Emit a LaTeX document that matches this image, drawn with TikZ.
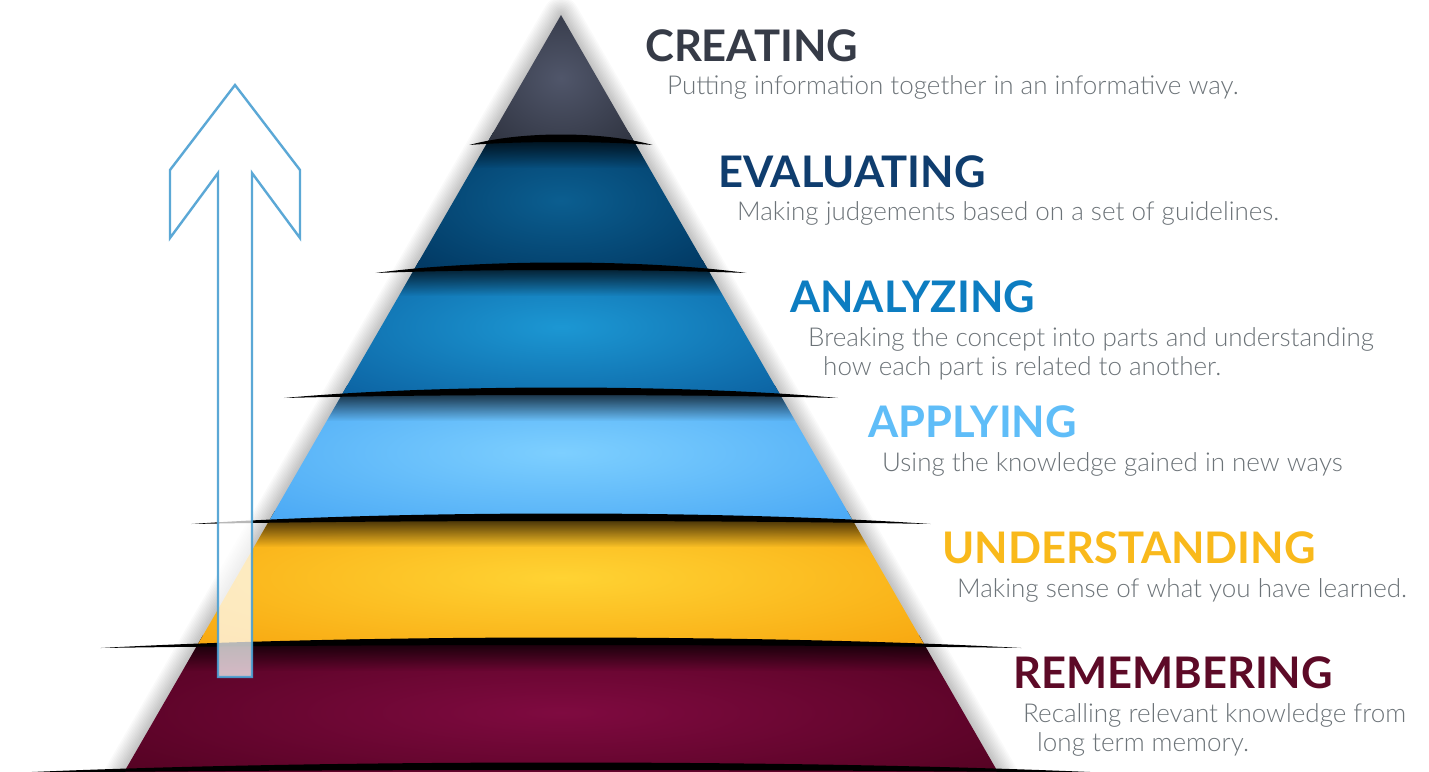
\documentclass[tikz,border=0pt]{standalone}
\usepackage{fontspec}
\setmainfont{Lato}[UprightFont={* Light},BoldFont={* Bold}]
\usepackage{tikz}
\usetikzlibrary{fadings}

\definecolor{createink} {HTML}{363B47}
\definecolor{evalink}   {HTML}{0F3D6E}
\definecolor{anaink}    {HTML}{0D7DC1}
\definecolor{applyink}  {HTML}{5FBDF8}
\definecolor{underink}  {HTML}{F9B91B}
\definecolor{rememink}  {HTML}{5D0A27}
\definecolor{descgray}  {HTML}{6C7378}
\definecolor{arrowblue} {HTML}{4A9FD2}
% band colours: light centre / dark rim
\definecolor{createin}  {HTML}{50566A}
\definecolor{createout} {HTML}{2B2F3B}
\definecolor{evalin}    {HTML}{0B5E90}
\definecolor{evalout}   {HTML}{00335C}
\definecolor{anain}     {HTML}{1C97D3}
\definecolor{anaout}    {HTML}{0A5C9C}
\definecolor{applyin}   {HTML}{7DCFFF}
\definecolor{applyout}  {HTML}{43A3F3}
\definecolor{underin}   {HTML}{FFD333}
\definecolor{underout}  {HTML}{F7A20C}
\definecolor{rememin}   {HTML}{7F0A40}
\definecolor{rememout}  {HTML}{48001A}
\colorlet{bandin}{white}
\colorlet{bandout}{black}
\pgfdeclareradialshading[bandin,bandout]{bandglow}{\pgfpoint{0bp}{0bp}}%
  {color(0bp)=(bandin); color(40bp)=(bandout); color(50bp)=(bandout); color(100bp)=(bandout)}

\tikzset{
  % --- text
  title/.style = {anchor=base west, inner sep=0pt, font=\fontsize{43.5}{44}\selectfont\bfseries},
  desc/.style  = {anchor=base west, inner sep=0pt, text=descgray,
                  font=\fontsize{26}{28}\selectfont},
  % --- shapes
  cut/.style   = {fill=black},
  glow/.style  = {draw=black, opacity=0.02, line join=round},
  climb/.style = {draw=arrowblue, draw opacity=0.9, line width=2.4pt, fill=white,
                  fill opacity=0.72, line join=miter},
}

\begin{document}
\begin{tikzpicture}[x=1pt,y=-1pt]
  \useasboundingbox (0,0) rectangle (1429,771);
  \fill[white] (0,0) rectangle (1429,771);

  % soft shadow round the pyramid
  \foreach \w in {3,6,...,36}
    \draw[glow, line width=\w pt] (561,15) -- (1012,796) -- (110,796) -- cycle;

  % one band: top y, bottom y, inner colour, outer colour, shadow strength
  \newcommand{\pyrband}[5]{%
    \pgfmathsetmacro{\halftop}{0.5771*(#1-15)}
    \pgfmathsetmacro{\halfbot}{0.5771*(#2-15)}
    \colorlet{bandin}{#3}\colorlet{bandout}{#4}
    \shade[shading=bandglow] (561-\halftop,#1) -- (561+\halftop,#1)
      -- (561+\halfbot,#2) -- (561-\halfbot,#2) -- cycle;
    \begin{scope}
      \clip (561-\halftop,#1) -- (561+\halftop,#1)
        -- (561+\halfbot,#2) -- (561-\halfbot,#2) -- cycle;
      \fill[black, path fading=south, opacity=#5]
        (561-\halfbot,#1) rectangle (561+\halfbot,#1+36);
    \end{scope}}
  % the dark lens between two bands, y = its centre line
  \newcommand{\pyrcut}[1]{%
    \pgfmathsetmacro{\tip}{1.27*0.5771*(#1-15)}
    \fill[cut] (561-\tip,#1+5) .. controls (561-0.45*\tip,#1-9) and (561+0.45*\tip,#1-9)
      .. (561+\tip,#1+5) .. controls (561+0.45*\tip,#1+1) and (561-0.45*\tip,#1+1) .. cycle;}

  % bands, bottom first so each one overlaps the one below
  \pyrband{635}{790}{rememin}{rememout}{0.95}
  \pyrband{511}{644}{underin}{underout}{0.95}
  \pyrband{385}{520}{applyin}{applyout}{0.95}
  \pyrband{260}{394}{anain}{anaout}{0.95}
  \pyrband{132}{269}{evalin}{evalout}{0.95}
  \pyrband{15}{141}{createin}{createout}{0}

  \pyrcut{140} \pyrcut{268} \pyrcut{393} \pyrcut{519} \pyrcut{643} \pyrcut{768}

  % hollow arrow on the left
  \draw[climb] (235,85) -- (300,170) -- (300,238) -- (252,173) -- (252,677)
    -- (218,677) -- (218,173) -- (170,238) -- (170,170) -- cycle;

  % labels
  \node[title, text=createink] (creating)      at (645,61)  {CREATING};
  \node[desc]                  (creating-d)    at (667,94)  {Putting information together in an informative way.};
  \node[title, text=evalink]   (evaluating)    at (718,187) {EVALUATING};
  \node[desc]                  (evaluating-d)  at (737,220) {Making judgements based on a set of guidelines.};
  \node[title, text=anaink]    (analyzing)     at (790,312) {ANALYZING};
  \node[desc]                  (analyzing-d)   at (808,346) {Breaking the concept into parts and understanding};
  \node[desc]                  (analyzing-d2)  at (823,375) {how each part is related to another.};
  \node[title, text=applyink]  (applying)      at (868,437) {APPLYING};
  \node[desc]                  (applying-d)    at (882,471) {Using the knowledge gained in new ways};
  \node[title, text=underink]  (understanding) at (942,563) {UNDERSTANDING};
  \node[desc]                  (understanding-d) at (957,597) {Making sense of what you have learned.};
  \node[title, text=rememink]  (remembering)   at (1013,688) {REMEMBERING};
  \node[desc]                  (remembering-d) at (1023,722) {Recalling relevant knowledge from};
  \node[desc]                  (remembering-d2) at (1037,751) {long term memory.};
\end{tikzpicture}
\end{document}
